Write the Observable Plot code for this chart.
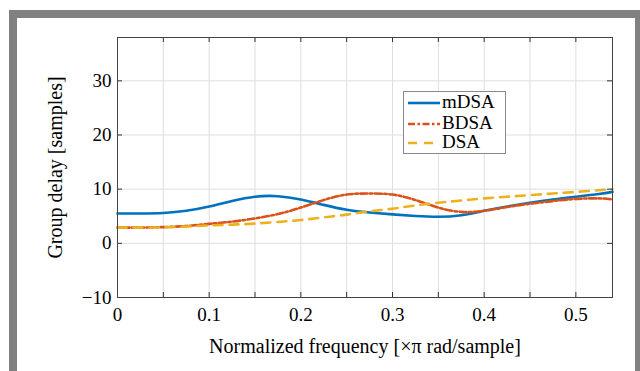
<!DOCTYPE html>
<html><head><meta charset="utf-8">
<script src="https://cdn.jsdelivr.net/npm/d3@7"></script>
<script src="https://cdn.jsdelivr.net/npm/@observablehq/plot@0.6"></script>
<style>
body{margin:0;width:640px;height:371px;overflow:hidden;background:#fff;position:relative;font-family:"Liberation Serif",serif;}
#chart{position:absolute;left:0;top:0;}
#frame{position:absolute;left:9px;top:10px;width:618px;height:400px;border-top:8px solid #808080;border-left:8px solid #808080;border-right:5px solid #808080;pointer-events:none;}
#legend{position:absolute;left:403px;top:91px;width:101px;height:61px;border:1px solid #8a8a8a;background:#fff;}
#legend .row{position:absolute;left:0;height:20px;width:100px;}
#legend svg{position:absolute;left:3px;top:0;}
#legend span{position:absolute;left:38px;top:-1px;font-size:19px;line-height:20px;color:#000;}
</style>
</head><body>
<div id="chart"></div>
<div id="frame"></div>
<div id="legend"></div>
<script>
const freq  = [0, 0.025, 0.05, 0.075, 0.1, 0.125, 0.15, 0.175, 0.2, 0.225, 0.25, 0.275, 0.3, 0.325, 0.35, 0.375, 0.4, 0.425, 0.45, 0.475, 0.5, 0.525, 0.54];
const mDSA  = [5.5, 5.5, 5.6, 6.0, 6.8, 7.8, 8.6, 8.7, 8.1, 7.1, 6.2, 5.7, 5.35, 5.05, 4.9, 5.2, 6.0, 6.8, 7.5, 8.1, 8.6, 9.1, 9.5];
const BDSA  = [2.9, 2.9, 3.0, 3.2, 3.6, 4.0, 4.6, 5.4, 6.6, 8.0, 9.0, 9.2, 9.0, 8.0, 6.6, 5.8, 6.0, 6.7, 7.3, 7.8, 8.2, 8.3, 8.1];
const DSA   = [2.9, 2.9, 2.95, 3.1, 3.3, 3.45, 3.65, 3.95, 4.3, 4.8, 5.3, 5.9, 6.4, 7.0, 7.5, 7.9, 8.3, 8.6, 8.9, 9.2, 9.5, 9.8, 10.0];
const seriesNames = ["mDSA", "BDSA", "DSA"];
const xTickLabels = [0, 0.1, 0.2, 0.3, 0.4, 0.5];
const xGrid = [0, 0.05, 0.1, 0.15, 0.2, 0.25, 0.3, 0.35, 0.4, 0.45, 0.5];
const yTicks = [-10, 0, 10, 20, 30];
const xLabel = "Normalized frequency [×π rad/sample]";
const yLabel = "Group delay [samples]";

const styles = {
  mDSA: {stroke: "#0072BD", dash: null},
  BDSA: {stroke: "#D95319", dash: "7,2.5,2.5,2.5"},
  DSA:  {stroke: "#EDB120", dash: "9,7"}
};
const valuesBy = {mDSA, BDSA, DSA};

const lineMarks = seriesNames.map(name =>
  Plot.line(freq.map((f, i) => ({f, v: valuesBy[name][i]})), {
    x: "f", y: "v", stroke: styles[name].stroke, strokeWidth: 2.6,
    strokeDasharray: styles[name].dash, curve: "natural"
  })
);

const chart = Plot.plot({
  width: 640, height: 371,
  marginLeft: 117, marginRight: 28, marginTop: 37, marginBottom: 74,
  style: {fontFamily: "'Liberation Serif', serif", fontSize: "19px", background: "transparent", color: "#000"},
  x: {domain: [0, 0.54]},
  y: {domain: [-10, 38]},
  marks: [
    Plot.gridX(xGrid, {stroke: "#dedede", strokeOpacity: 1}),
    Plot.gridY(yTicks, {stroke: "#dedede", strokeOpacity: 1}),
    ...lineMarks,
    Plot.tickX(xGrid, {stroke: "#333", insetTop: 255}),
    Plot.tickX(xGrid, {stroke: "#333", insetBottom: 255}),
    Plot.tickY(yTicks, {stroke: "#333", insetRight: 490}),
    Plot.tickY(yTicks, {stroke: "#333", insetLeft: 490}),
    Plot.frame({stroke: "#444"}),
    Plot.axisX(xTickLabels, {tickSize: 0, tickPadding: 10, fontSize: 19, tickFormat: d => d === 0 ? "0" : d.toFixed(1), label: null}),
    Plot.axisY(yTicks, {tickSize: 0, tickPadding: 6, fontSize: 19, label: null}),
    Plot.text([xLabel], {frameAnchor: "bottom", dy: 49, fontSize: 20, textAnchor: "middle", lineAnchor: "middle", fill: "#000"}),
    Plot.text([yLabel], {frameAnchor: "left", dx: -62, rotate: -90, fontSize: 20, textAnchor: "middle", lineAnchor: "middle", fill: "#000"})
  ]
});
document.getElementById("chart").appendChild(chart);

const legend = document.getElementById("legend");
const rowTops = [1, 22, 41];
seriesNames.forEach((name, i) => {
  const row = document.createElement("div");
  row.className = "row";
  row.style.top = rowTops[i] + "px";
  row.innerHTML = `<svg width="34" height="20"><line x1="1" x2="33" y1="10" y2="10" stroke="${styles[name].stroke}" stroke-width="2.6" ${styles[name].dash ? `stroke-dasharray="${styles[name].dash}"` : ""}/></svg><span>${name}</span>`;
  legend.appendChild(row);
});
</script>
</body></html>
